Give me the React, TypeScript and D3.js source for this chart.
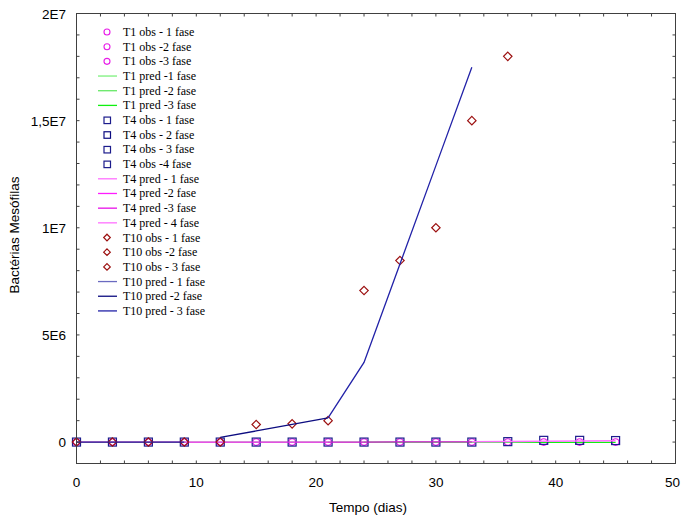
import React from "react";
import * as d3 from "d3";

const W = 681;
const H = 520;

// ---- data ----
const xObs = [0, 3, 6, 9, 12, 15, 18, 21, 24, 27, 30, 33, 36, 39, 42, 45];
const t1Obs = [0, 0, 0, 0, 0, 0, 0, 0, 0, 0, 0, 0, 0, 0, 0, 0];
const t4Obs = [0, 0, 0, 0, 0, 0, 0, 0, 0, 0, 0, 0, 20000, 80000, 80000, 70000];

const t1Pred1X = [0, 3, 6, 9, 12];
const t1Pred1Y = [0, 0, 0, 0, 0];
const t1Pred2X = [12, 15, 18, 21, 24];
const t1Pred2Y = [0, 0, 0, 0, 0];
const t1Pred3X = [24, 27, 30, 33, 36, 39, 42, 45];
const t1Pred3Y = [0, 0, 0, 0, 0, -10000, -10000, -10000];

const t4Pred1X = [0, 3, 6, 9];
const t4Pred1Y = [0, 0, 0, 0];
const t4Pred2X = [9, 12, 15, 18, 21];
const t4Pred2Y = [0, 0, 0, 0, 0];
const t4Pred3X = [21, 24, 27, 30, 33];
const t4Pred3Y = [0, 0, 10000, 10000, 10000];
const t4Pred4X = [33, 36, 39, 42, 45];
const t4Pred4Y = [20000, 30000, 40000, 50000, 60000];

const t10ObsX = [0, 3, 6, 9, 12, 15, 18, 21, 24, 27, 30, 33, 36];
const t10ObsY = [0, 0, 0, 0, 0, 820000, 850000, 1000000, 7070000, 8470000, 10000000, 15000000, 18000000];

const t10Pred1X = [0, 3, 6, 9];
const t10Pred1Y = [0, 0, 0, 0];
const t10Pred2X = [12, 15, 18, 21];
const t10Pred2Y = [220000, 520000, 830000, 1130000];
const t10Pred3X = [21, 24, 27, 30, 33];
const t10Pred3Y = [1130000, 3720000, 8310000, 12900000, 17490000];

const xTicks = [0, 10, 20, 30, 40, 50];
const yTicks = [0, 5000000, 10000000, 15000000, 20000000];
const yTickLabels = ["0", "5E6", "1E7", "1,5E7", "2E7"];

const legendLabels = [
  "T1 obs - 1 fase", "T1 obs -2 fase", "T1 obs -3 fase",
  "T1 pred -1 fase", "T1 pred -2 fase", "T1 pred -3 fase",
  "T4 obs - 1 fase", "T4 obs - 2 fase", "T4 obs - 3 fase", "T4 obs -4 fase",
  "T4 pred - 1 fase", "T4 pred -2 fase", "T4 pred -3 fase", "T4 pred - 4 fase",
  "T10 obs - 1 fase", "T10 obs -2 fase", "T10 obs - 3 fase",
  "T10 pred - 1 fase", "T10 pred -2 fase", "T10 pred - 3 fase",
];
const legendKinds = [
  "circle", "circle", "circle", "line", "line", "line",
  "square", "square", "square", "square", "line", "line", "line", "line",
  "diamond", "diamond", "diamond", "line", "line", "line",
];
const legendColors = [
  "#e81ce8", "#e81ce8", "#e81ce8", "#7cf07c", "#66e866", "#10f010",
  "#1c1c8c", "#0c0c80", "#1c1c8c", "#1c1c8c", "#ff70ff", "#ff1cff", "#e810e8", "#ff70ff",
  "#9c1010", "#9c1010", "#9c1010", "#6a6ac0", "#0c0c80", "#2222a8",
];

const X0 = 76.5, X1 = 675.5, Y0 = 463.5, Y1 = 13.5;

export default function App() {
  const x = d3.scaleLinear().domain([0, 50]).range([X0, X1]);
  const y = d3.scaleLinear().domain([-1000000, 20000000]).range([Y0, Y1]);
  const line = (xs: number[], ys: number[]) =>
    d3.line<number>().x((_, i) => x(xs[i])).y((v) => y(v))(ys) || "";

  const xMinor = d3.range(0, 50.001, 2);
  const yMinor = d3.range(-1000000, 20000001, 1000000);
  const frame = "#404040";
  const sans = "'Liberation Sans', Arial, sans-serif";
  const serif = "'Liberation Serif', 'Times New Roman', serif";

  const diamond = (cx: number, cy: number, r: number) =>
    `M${cx},${cy - r}L${cx + r},${cy}L${cx},${cy + r}L${cx - r},${cy}Z`;

  const predLines: [number[], number[], string, number][] = [
    [t1Pred1X, t1Pred1Y, legendColors[3], 1.2],
    [t1Pred2X, t1Pred2Y, legendColors[4], 1.2],
    [t1Pred3X, t1Pred3Y, legendColors[5], 1.2],
  ];
  const t4Lines: [number[], number[], string, number][] = [
    [t4Pred1X, t4Pred1Y, legendColors[10], 1.5],
    [t4Pred2X, t4Pred2Y, legendColors[11], 1.2],
    [t4Pred3X, t4Pred3Y, legendColors[12], 1.2],
    [t4Pred4X, t4Pred4Y, legendColors[13], 1.5],
  ];
  const t10Lines: [number[], number[], string, number][] = [
    [t10Pred1X, t10Pred1Y, "#1a1a88", 1.3],
    [t10Pred2X, t10Pred2Y, legendColors[18], 1.3],
    [t10Pred3X, t10Pred3Y, legendColors[19], 1.3],
  ];

  const legY0 = 32, legStep = 14.68;

  return (
    <svg width={W} height={H} style={{ position: "absolute", left: 0, top: 0, background: "#fff" }}>
      {/* T1 obs circles */}
      {xObs.map((xv, i) => (
        <circle key={"c" + i} cx={x(xv)} cy={y(t1Obs[i])} r={3.3} fill="none" stroke={legendColors[0]} strokeWidth={1.1} />
      ))}
      {predLines.map(([xs, ys, c, w], i) => (
        <path key={"p1" + i} d={line(xs, ys)} fill="none" stroke={c} strokeWidth={w} />
      ))}
      {/* T4 obs squares */}
      {xObs.map((xv, i) => (
        <rect key={"s" + i} x={x(xv) - 4} y={y(t4Obs[i]) - 4} width={8} height={8} fill="none" stroke="#1c1c8c" strokeWidth={1.2} />
      ))}
      {t4Lines.map(([xs, ys, c, w], i) => (
        <path key={"p4" + i} d={line(xs, ys)} fill="none" stroke={c} strokeWidth={w} />
      ))}
      {/* T10 obs diamonds */}
      {t10ObsX.map((xv, i) => (
        <path key={"d" + i} d={diamond(x(xv), y(t10ObsY[i]), 4.2)} fill="none" stroke="#9c1010" strokeWidth={1.2} />
      ))}
      {t10Lines.map(([xs, ys, c, w], i) => (
        <path key={"p10" + i} d={line(xs, ys)} fill="none" stroke={c} strokeWidth={w} />
      ))}

      {/* frame */}
      <rect x={X0} y={Y1} width={X1 - X0} height={Y0 - Y1} fill="none" stroke={frame} strokeWidth={1} />
      {xMinor.map((v, i) => (
        <g key={"xt" + i}>
          <line x1={x(v)} x2={x(v)} y1={Y0} y2={Y0 - 3} stroke={frame} />
          <line x1={x(v)} x2={x(v)} y1={Y1} y2={Y1 + 3} stroke={frame} />
        </g>
      ))}
      {yMinor.map((v, i) => (
        <g key={"yt" + i}>
          <line x1={X0} x2={X0 + 3} y1={y(v)} y2={y(v)} stroke={frame} />
          <line x1={X1} x2={X1 - 3} y1={y(v)} y2={y(v)} stroke={frame} />
        </g>
      ))}
      {xTicks.map((v, i) => {
        const last = i === xTicks.length - 1;
        return (
          <text key={"xl" + i} x={last ? 680 : x(v)} y={487} textAnchor={last ? "end" : "middle"} fontFamily={sans} fontSize={13.5} fill="#000">
            {v}
          </text>
        );
      })}
      {yTicks.map((v, i) => (
        <text key={"yl" + i} x={66} y={y(v) + 5} textAnchor="end" fontFamily={sans} fontSize={13.5} fill="#000">
          {yTickLabels[i]}
        </text>
      ))}
      <text x={368} y={512} textAnchor="middle" fontFamily={sans} fontSize={13.5} fill="#000">
        Tempo (dias)
      </text>
      <text transform="translate(19,235) rotate(-90)" textAnchor="middle" fontFamily={sans} fontSize={13.5} fill="#000">
        Bactérias Mesófilas
      </text>

      {/* legend */}
      {legendLabels.map((lab, i) => {
        const ly = legY0 + i * legStep;
        const k = legendKinds[i];
        const c = legendColors[i];
        return (
          <g key={"lg" + i}>
            {k === "circle" && <circle cx={107} cy={ly} r={3} fill="none" stroke={c} strokeWidth={1.1} />}
            {k === "square" && <rect x={104} y={ly - 3} width={6.5} height={6.5} fill="none" stroke={c} strokeWidth={1.2} />}
            {k === "diamond" && <path d={diamond(107, ly, 3.3)} fill="none" stroke={c} strokeWidth={1.2} />}
            {k === "line" && <line x1={98} x2={117} y1={ly} y2={ly} stroke={c} strokeWidth={1.3} />}
            <text x={123} y={ly + 4} fontFamily={serif} fontSize={12} fill="#000">
              {lab}
            </text>
          </g>
        );
      })}
    </svg>
  );
}
